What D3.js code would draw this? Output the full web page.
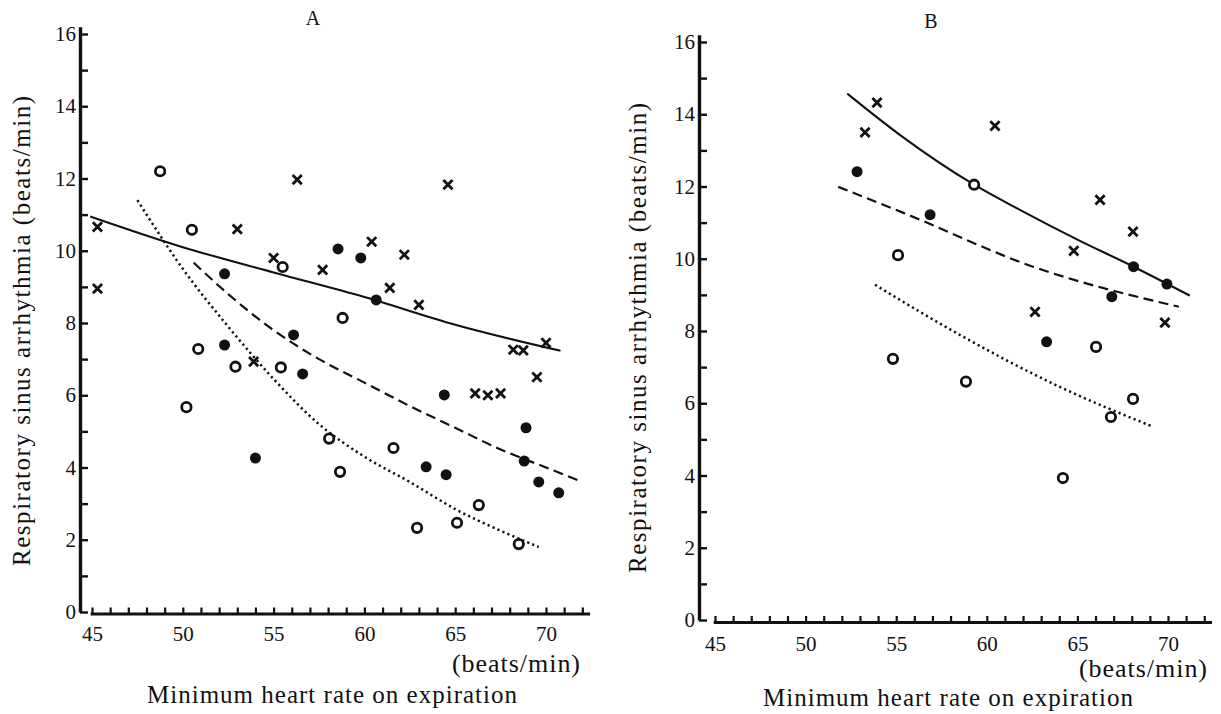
<!DOCTYPE html>
<html>
<head>
<meta charset="utf-8">
<script src="https://cdn.jsdelivr.net/npm/d3@7"></script>
<style>
  html, body { margin: 0; padding: 0; background: #fff; }
  svg { display: block; }
  text { font-family: "Liberation Serif", "DejaVu Serif", serif; fill: #111; }
</style>
</head>
<body>
<svg id="chart" width="1221" height="714"></svg>
<script>
// ---------- Data ----------
const xTickLabels = [45, 50, 55, 60, 65, 70];
const yTickLabels = [0, 2, 4, 6, 8, 10, 12, 14, 16];

// Panel A — crosses (×)
const aCrossX = [45.3, 45.3, 53.0, 55.0, 56.3, 57.7, 53.9, 60.4, 61.4, 62.2, 63.0, 64.6, 66.1, 66.8, 67.5, 68.2, 68.75, 69.5, 70.0];
const aCrossY = [10.66, 8.95, 10.6, 9.8, 11.97, 9.47, 6.93, 10.25, 8.97, 9.89, 8.5, 11.83, 6.05, 6.0, 6.05, 7.26, 7.24, 6.5, 7.45];
// Panel A — filled circles (●)
const aFillX = [52.3, 58.55, 59.8, 60.65, 52.3, 56.1, 56.6, 54.0, 64.4, 68.9, 68.8, 69.6, 70.7, 63.4, 64.5];
const aFillY = [9.36, 10.05, 9.8, 8.64, 7.39, 7.67, 6.59, 4.26, 6.01, 5.1, 4.18, 3.6, 3.3, 4.02, 3.8];
// Panel A — open circles (○)
const aOpenX = [48.75, 50.5, 55.5, 58.8, 50.85, 52.9, 55.4, 50.2, 58.06, 58.66, 61.6, 62.9, 65.1, 66.3, 68.5];
const aOpenY = [12.2, 10.58, 9.55, 8.14, 7.28, 6.79, 6.77, 5.67, 4.8, 3.88, 4.54, 2.33, 2.47, 2.96, 1.88];
// Panel A — regression curves
const aSolidX = [44.9, 50, 55, 60, 65, 70.8];
const aSolidY = [10.95, 10.1, 9.4, 8.72, 7.95, 7.23];
const aDashX = [50.6, 52.5, 55, 57.5, 60, 62.5, 65, 67.5, 70, 72];
const aDashY = [9.67, 8.8, 7.8, 7.0, 6.35, 5.7, 5.1, 4.5, 4.0, 3.6];
const aDotX = [47.5, 50, 52.5, 55, 57.5, 60, 62.5, 65, 67.5, 69.6];
const aDotY = [11.4, 9.5, 7.9, 6.45, 5.2, 4.3, 3.6, 2.85, 2.25, 1.8];

// Panel B — crosses (×)
const bCrossX = [53.94, 53.28, 60.45, 66.25, 68.07, 64.8, 62.66, 69.83];
const bCrossY = [14.32, 13.5, 13.68, 11.63, 10.75, 10.22, 8.53, 8.23];
// Panel B — filled circles (●)
const bFillX = [52.84, 56.87, 68.1, 69.94, 66.9, 63.3];
const bFillY = [12.41, 11.22, 9.78, 9.3, 8.95, 7.7];
// Panel B — open circles (○)
const bOpenX = [55.1, 59.3, 54.82, 58.85, 66.03, 68.07, 66.85, 64.2];
const bOpenY = [10.1, 12.05, 7.23, 6.6, 7.56, 6.12, 5.62, 3.93];
// Panel B — regression curves
const bSolidX = [52.3, 55.2, 59.3, 61.8, 65.0, 68.1, 71.2];
const bSolidY = [14.57, 13.43, 12.05, 11.36, 10.53, 9.78, 8.98];
const bDashX = [51.8, 55.4, 62.55, 70.6];
const bDashY = [11.99, 11.27, 9.78, 8.67];
const bDotX = [53.83, 58.52, 64.04, 69.17];
const bDotY = [9.28, 7.89, 6.45, 5.35];

const panelLabels = ["A", "B"];
const yTitle = "Respiratory sinus arrhythmia (beats/min)";
const xTitle = "Minimum heart rate on expiration";
const xUnit = "(beats/min)";

// ---------- Drawing ----------
const svg = d3.select("#chart");
const zip = (xs, ys) => xs.map((x, i) => [x, ys[i]]);

const panels = [
  {
    label: panelLabels[0], labelPos: [313, 25],
    xr: [92, 546], yr: [612, 34], xAxisY: 613.5, yAxisX: 80,
    yTitlePos: [30, 331], xTitlePos: [332, 703], xUnitPos: [516, 672],
    cross: zip(aCrossX, aCrossY), fill: zip(aFillX, aFillY), open: zip(aOpenX, aOpenY),
    solid: zip(aSolidX, aSolidY), dash: zip(aDashX, aDashY), dot: zip(aDotX, aDotY),
    xLabelOffset: 13
  },
  {
    label: panelLabels[1], labelPos: [931, 28],
    xr: [715, 1168], yr: [620, 42], xAxisY: 622, yAxisX: 699,
    yTitlePos: [646, 338], xTitlePos: [948, 706], xUnitPos: [1143, 677],
    cross: zip(bCrossX, bCrossY), fill: zip(bFillX, bFillY), open: zip(bOpenX, bOpenY),
    solid: zip(bSolidX, bSolidY), dash: zip(bDashX, bDashY), dot: zip(bDotX, bDotY),
    xLabelOffset: 14
  }
];

panels.forEach(p => {
  const x = d3.scaleLinear().domain([45, 70]).range(p.xr);
  const y = d3.scaleLinear().domain([0, 16]).range(p.yr);
  const g = svg.append("g");

  // X axis (ticks point up)
  const xA = d3.scaleLinear().domain([44.9, 72.4]).range([x(44.9), x(72.4)]);
  const xAxis = d3.axisBottom(xA)
    .tickValues(d3.range(45, 73))
    .tickFormat(d => xTickLabels.includes(d) ? String(d) : "")
    .tickSizeInner(-6).tickSizeOuter(0).tickPadding(p.xLabelOffset);
  const gx = g.append("g").attr("transform", `translate(0,${p.xAxisY})`)
    .call(xAxis).attr("font-family", null);
  gx.select(".domain").attr("stroke", "#111").attr("stroke-width", 3.2);
  gx.selectAll(".tick line").attr("stroke", "#111").attr("stroke-width", 2.2);
  gx.selectAll(".tick text").attr("font-size", 21).attr("fill", "#111");

  // Y axis (ticks point right)
  const yA = d3.scaleLinear().domain([0, 16.2]).range([y(0), y(16.2)]);
  const yAxis = d3.axisLeft(yA)
    .tickValues(d3.range(0, 17))
    .tickFormat(d => yTickLabels.includes(d) ? String(d) : "")
    .tickSizeInner(-8).tickSizeOuter(0).tickPadding(4);
  const gy = g.append("g").attr("transform", `translate(${p.yAxisX},0)`)
    .call(yAxis).attr("font-family", null);
  gy.select(".domain").attr("stroke", "#111").attr("stroke-width", 3.4);
  gy.selectAll(".tick line").attr("stroke", "#111").attr("stroke-width", 2.4);
  gy.selectAll(".tick text").attr("font-size", 21).attr("fill", "#111");

  // Curves
  const line = d3.line().x(d => x(d[0])).y(d => y(d[1])).curve(d3.curveMonotoneX);
  g.append("path").attr("d", line(p.solid)).attr("fill", "none")
    .attr("stroke", "#111").attr("stroke-width", 2.1);
  g.append("path").attr("d", line(p.dash)).attr("fill", "none")
    .attr("stroke", "#111").attr("stroke-width", 2.2).attr("stroke-dasharray", "10,5.5");
  g.append("path").attr("d", line(p.dot)).attr("fill", "none")
    .attr("stroke", "#111").attr("stroke-width", 2.5).attr("stroke-dasharray", "2.2,3.2");

  // Markers
  g.selectAll(".fill").data(p.fill).join("circle")
    .attr("cx", d => x(d[0])).attr("cy", d => y(d[1])).attr("r", 5.5).attr("fill", "#111");
  g.selectAll(".open").data(p.open).join("circle")
    .attr("cx", d => x(d[0])).attr("cy", d => y(d[1])).attr("r", 4.7)
    .attr("fill", "#fff").attr("stroke", "#111").attr("stroke-width", 2.8);
  const cs = 4.6;
  g.selectAll(".cross").data(p.cross).join("path")
    .attr("d", d => {
      const cx = x(d[0]), cy = y(d[1]);
      return `M${cx - cs},${cy - cs}L${cx + cs},${cy + cs}M${cx + cs},${cy - cs}L${cx - cs},${cy + cs}`;
    })
    .attr("stroke", "#111").attr("stroke-width", 2.8).attr("fill", "none");

  // Texts
  g.append("text").attr("x", p.labelPos[0]).attr("y", p.labelPos[1])
    .attr("text-anchor", "middle").attr("font-size", 20).text(p.label);
  g.append("text")
    .attr("transform", `translate(${p.yTitlePos[0]},${p.yTitlePos[1]}) rotate(-90)`)
    .attr("text-anchor", "middle").attr("font-size", 25)
    .attr("textLength", 470).attr("lengthAdjust", "spacing").text(yTitle);
  g.append("text").attr("x", p.xTitlePos[0]).attr("y", p.xTitlePos[1])
    .attr("text-anchor", "middle").attr("font-size", 25)
    .attr("textLength", 370).attr("lengthAdjust", "spacing").text(xTitle);
  g.append("text").attr("x", p.xUnitPos[0]).attr("y", p.xUnitPos[1])
    .attr("text-anchor", "middle").attr("font-size", 26)
    .attr("textLength", 128).attr("lengthAdjust", "spacing").text(xUnit);
});
</script>
</body>
</html>
